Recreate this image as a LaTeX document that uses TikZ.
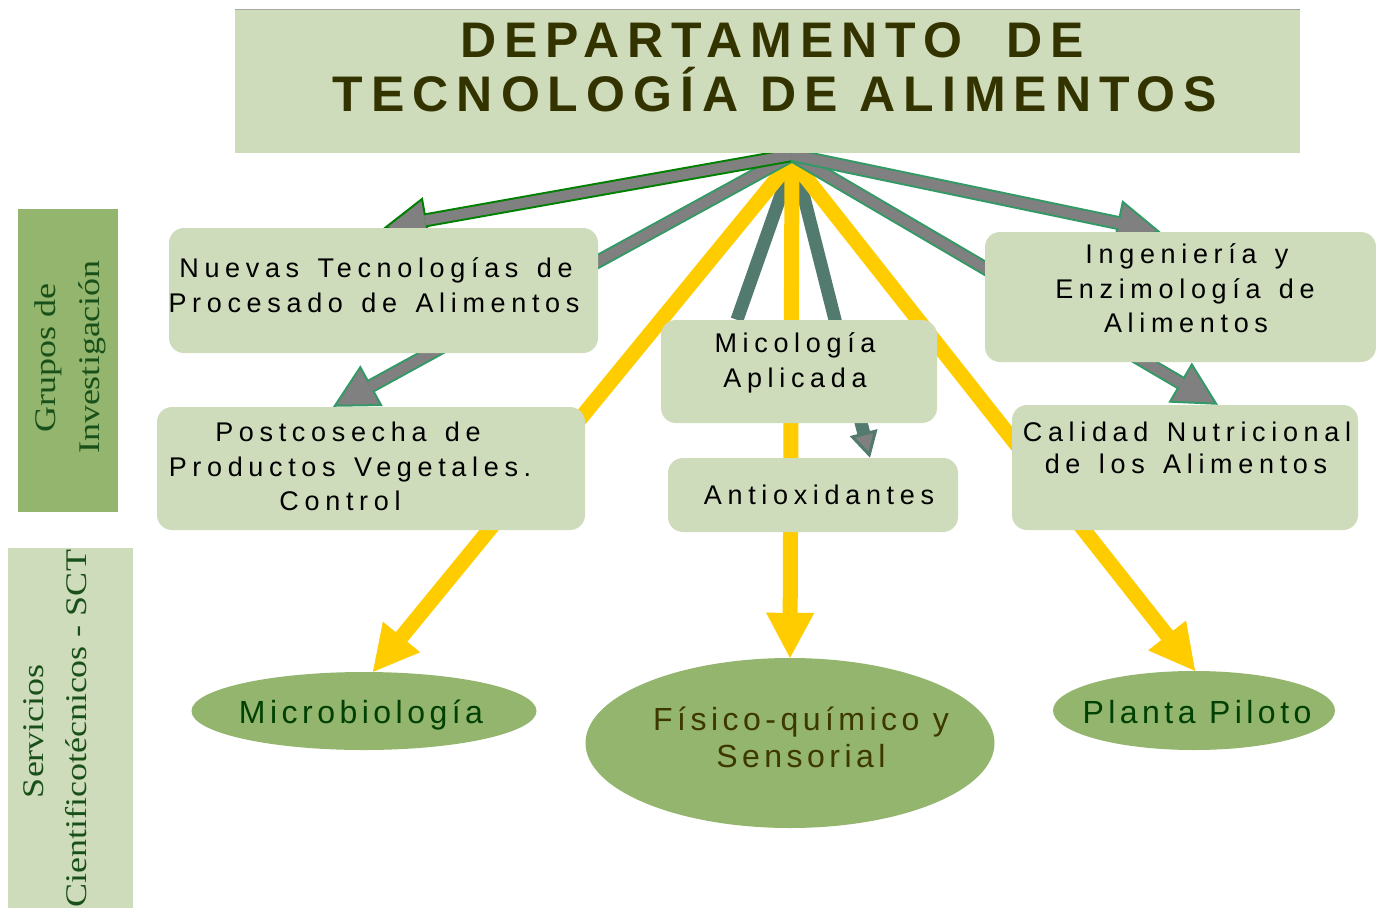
\documentclass[tikz,border=0pt]{standalone}
\usepackage{fontspec}
\usetikzlibrary{shapes.geometric,arrows.meta,calc}
\newfontfamily\boxfont[LetterSpace=21,WordSpace=1.4]{Liberation Sans}
\newfontfamily\titlefont[LetterSpace=16]{Liberation Sans}
\newfontfamily\ellfont[LetterSpace=14]{Liberation Sans}
\newfontfamily\sidefont[FakeStretch=1.2]{Liberation Serif}
\definecolor{boxgreen}{RGB}{207,220,188}
\definecolor{midgreen}{RGB}{147,181,109}
\definecolor{titletxt}{RGB}{51,51,0}
\definecolor{sidetxt}{RGB}{25,80,25}
\definecolor{elltxt}{RGB}{0,64,0}
\definecolor{olivetxt}{RGB}{60,56,0}
\definecolor{arrgray}{RGB}{128,128,128}
\definecolor{seagreenline}{RGB}{51,153,102}
\definecolor{darkgreenline}{RGB}{0,128,0}
\definecolor{tealline}{RGB}{82,122,111}
\definecolor{yell}{RGB}{255,204,0}
\pgfdeclarelayer{background}
\pgfsetlayers{background,main}
\begin{document}
\begin{tikzpicture}[x=1pt,y=-1pt,
  plainbox/.style={fill=#1, inner sep=0pt, draw=none},
  roundbox/.style={fill=boxgreen, rounded corners=15pt, inner sep=0pt, draw=none},
  ellbox/.style={ellipse, fill=midgreen, inner sep=0pt, draw=none},
  bt/.style={anchor=base, inner sep=0pt, font=\boxfont\fontsize{27}{34}\selectfont, text=black},
  et/.style={anchor=base, inner sep=0pt, font=\ellfont\fontsize{32}{37}\selectfont, text=#1},
  tt/.style={anchor=base, inner sep=0pt, font=\titlefont\bfseries\fontsize{50}{54}\selectfont, text=titletxt},
  st/.style={anchor=base, inner sep=0pt, rotate=90, font=\sidefont\fontsize{30}{44}\selectfont, text=sidetxt},
  grayarr/.style={line width=14pt, draw=#1, -{Triangle[length=44pt,width=46pt,line width=2pt,fill=arrgray]}},
  grayshaft/.style={line width=10pt, draw=arrgray, shorten >=42pt},
  tealarr/.style={line width=13pt, draw=tealline},
  yellarr/.style={line width=15pt, draw=yell, -{Triangle[length=45pt,width=48pt,line width=0.5pt]}}
]
\useasboundingbox (0,0) rectangle (1376,908);

% title
\node[plainbox=boxgreen, minimum width=1065pt, minimum height=143pt] (title) at (767.5,81.5) {};
\draw[gray!70, line width=1pt] (title.north west) -- (title.north east);
\node[tt] (title1) at (772,57) {DEPARTAMENTO~~DE};
\node[tt] (title2) at (775,111) {TECNOLOGÍA DE ALIMENTOS};

% side labels
\node[plainbox=midgreen, minimum width=100pt, minimum height=303pt] (grupos) at (68,360.5) {};
\node[st] (grupos1) at (55,358) {Grupos de};
\node[st] (grupos2) at (99,357) {Investigación};
\node[plainbox=boxgreen, minimum width=125pt, minimum height=360pt] (servicios) at (70.5,728) {};
\node[st] (serv1) at (43,731) {Servicios};
\node[st] (serv2) at (86,729) {Cientificotécnicos - SCT};

% group boxes
\node[roundbox, minimum width=429pt, minimum height=125pt] (nuevas) at (383.5,290.5) {};
\node[bt] (nuevas1) at (376,277) {Nuevas Tecnologías de};
\node[bt] (nuevas2) at (374,312) {Procesado de Alimentos};

\node[roundbox, minimum width=428pt, minimum height=123pt] (post) at (371,468.5) {};
\node[bt] (post1) at (348,441) {Postcosecha de};
\node[bt] (post2) at (350,476) {Productos Vegetales.};
\node[bt] (post3) at (340,510) {Control};

\node[roundbox, minimum width=276pt, minimum height=103pt] (mic) at (799,371.5) {};
\node[bt] (mic1) at (795,352) {Micología};
\node[bt] (mic2) at (795,387) {Aplicada};

\node[roundbox, minimum width=290pt, minimum height=74pt] (anti) at (813,495) {};
\node[bt] (anti1) at (819,504) {Antioxidantes};

\node[roundbox, minimum width=391pt, minimum height=130pt] (ing) at (1180.5,297) {};
\node[bt] (ing1) at (1187,263) {Ingeniería y};
\node[bt] (ing2) at (1185,298) {Enzimología de};
\node[bt] (ing3) at (1186,332) {Alimentos};

\node[roundbox, minimum width=346pt, minimum height=125pt] (cal) at (1185,467.5) {};
\node[bt] (cal1) at (1187,441) {Calidad Nutricional};
\node[bt] (cal2) at (1186,473) {de los Alimentos};

% service ellipses
\node[ellbox, minimum width=345pt, minimum height=78pt] (micro) at (364,711) {};
\node[et=elltxt] (micro1) at (361,723) {Microbiología};
\node[ellbox, minimum width=409pt, minimum height=170pt] (fis) at (790,743) {};
\node[et=olivetxt] (fis1) at (801,730) {Físico-químico y};
\node[et=olivetxt] (fis2) at (801,767) {Sensorial};
\node[ellbox, minimum width=282pt, minimum height=79pt] (planta) at (1194,710.5) {};
\node[et=elltxt] (planta1) at (1197,723) {Planta Piloto};

% roots
\coordinate (root) at (792,155);
\coordinate (yroot) at (792,160);
\coordinate (troot) at (794,158);

\begin{pgfonlayer}{background}
  \fill[white] (0,0) rectangle (1376,908);
  % teal connectors
  \draw[tealarr] (troot) -- ([xshift=-62pt]mic.north);
  \draw[tealarr, -{Triangle[length=26pt,width=28pt,line width=3pt,fill=arrgray]}] (troot) -- ([xshift=57pt]anti.north);
  % yellow connectors
  \draw[yellarr] (yroot) -- ([xshift=9pt]micro.north);
  \draw[yellarr] (yroot) -- (fis.north);
  \draw[yellarr] (yroot) -- ([xshift=1pt]planta.north);
  % gray connectors
  \draw[grayarr=seagreenline] (root) -- ([xshift=-38pt]post.north);
  \draw[grayshaft] (root) -- ([xshift=-38pt]post.north);
  \draw[grayarr=seagreenline] (root) -- ([xshift=33pt]cal.north);
  \draw[grayshaft] (root) -- ([xshift=33pt]cal.north);
  \draw[grayarr=darkgreenline] (root) -- (nuevas.north);
  \draw[grayshaft] (root) -- (nuevas.north);
  \draw[grayarr=seagreenline] (root) -- ([xshift=-20pt]ing.north);
  \draw[grayshaft] (root) -- ([xshift=-20pt]ing.north);
\end{pgfonlayer}
\end{tikzpicture}
\end{document}
